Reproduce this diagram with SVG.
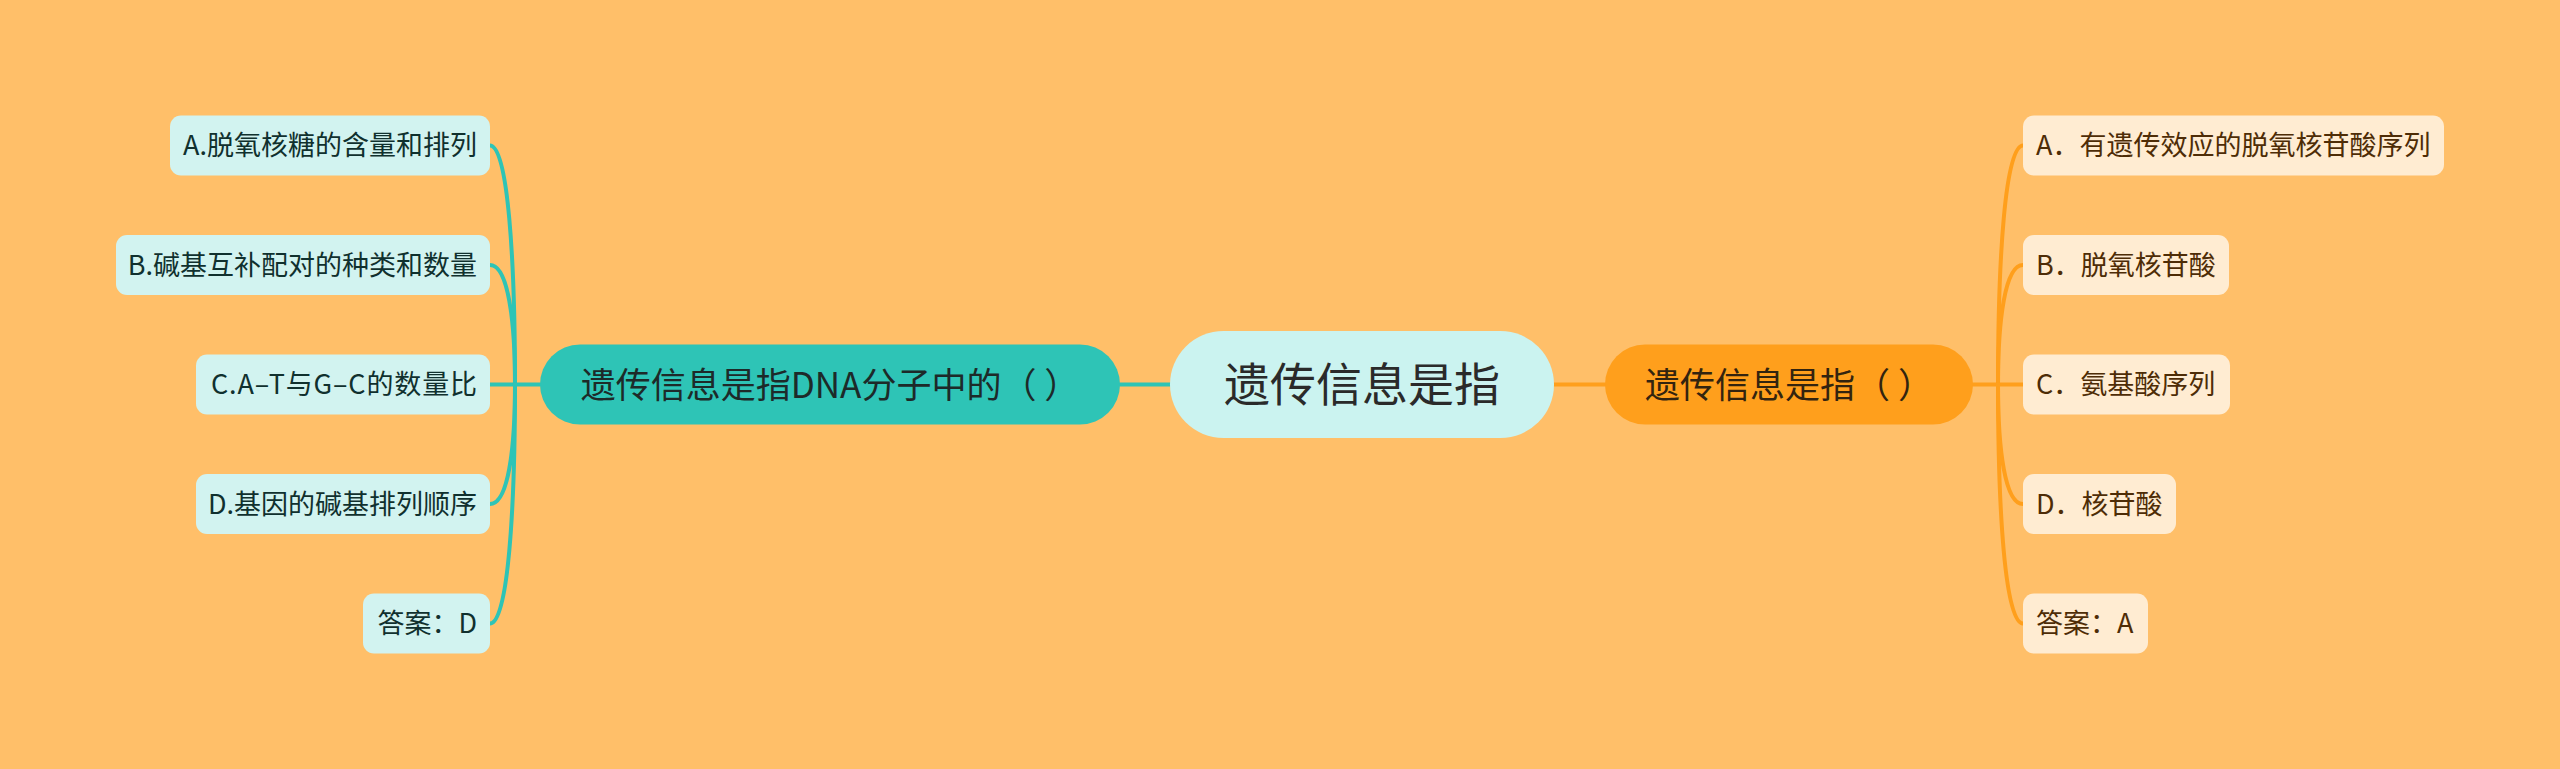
<svg xmlns="http://www.w3.org/2000/svg" width="2560" height="769" viewBox="0 0 2560 769">
<style>
text{font-family:"Noto Sans CJK SC","Noto Sans",sans-serif}
.lk{fill:none;stroke-width:4;stroke-linecap:round}
.tl{stroke:#2ec4b6}
.or{stroke:#ff9f1c}
.leafL rect{fill:#d2f3f0}
.leafL text{fill:#10302e;font-size:27px;text-anchor:end}
.leafR rect{fill:#ffecd2}
.leafR text{fill:#4e2c06;font-size:27px;text-anchor:start}
</style>
<rect x="0" y="0" width="2560" height="769" fill="#ffbf69"/>
<g id="connectors">
<path class="lk tl" d="M1120 384.5 L1170 384.5"/>
<path class="lk or" d="M1553 384.5 L1605 384.5"/>
<path class="lk tl" d="M540 384.5 L490 384.5"/>
<path class="lk tl" d="M490 145.5 C508 145.5 515 260 515 384.5"/>
<path class="lk tl" d="M490 265 C508 265 515 320 515 384.5"/>
<path class="lk tl" d="M490 504 C508 504 515 450 515 384.5"/>
<path class="lk tl" d="M490 623.5 C508 623.5 515 510 515 384.5"/>
<path class="lk or" d="M1973 384.5 L2023 384.5"/>
<path class="lk or" d="M2023 145.5 C2005 145.5 1998 260 1998 384.5"/>
<path class="lk or" d="M2023 265 C2005 265 1998 320 1998 384.5"/>
<path class="lk or" d="M2023 504 C2005 504 1998 450 1998 384.5"/>
<path class="lk or" d="M2023 623.5 C2005 623.5 1998 510 1998 384.5"/>
</g>
<g id="center">
<rect x="1170" y="331" width="384" height="107" rx="53.5" fill="#cbf3f0"/>
<text x="1362" y="401" font-size="46" text-anchor="middle" fill="#2a2a2a">遗传信息是指</text>
</g>
<g id="left-main">
<rect x="540" y="344.5" width="580" height="80" rx="40" fill="#2ec4b6"/>
<text x="830" y="397.5" font-size="35" text-anchor="middle" fill="#1d2a29">遗传信息是指DNA分子中的（ ）</text>
</g>
<g id="right-main">
<rect x="1605" y="344.5" width="368" height="80" rx="40" fill="#ff9f1c"/>
<text x="1789" y="397.5" font-size="35" text-anchor="middle" fill="#33240f">遗传信息是指（ ）</text>
</g>
<g id="left-a" class="leafL">
<rect x="170" y="115.5" width="320" height="60" rx="11"/>
<text x="477" y="155">A.脱氧核糖的含量和排列</text>
</g>
<g id="left-b" class="leafL">
<rect x="116" y="235" width="374" height="60" rx="11"/>
<text x="477" y="274.5">B.碱基互补配对的种类和数量</text>
</g>
<g id="left-c" class="leafL">
<rect x="196" y="354.5" width="294" height="60" rx="11"/>
<text x="477" y="394" textLength="266" lengthAdjust="spacing">C.A–T与G–C的数量比</text>
</g>
<g id="left-d" class="leafL">
<rect x="196" y="474" width="294" height="60" rx="11"/>
<text x="477" y="513.5">D.基因的碱基排列顺序</text>
</g>
<g id="left-ans" class="leafL">
<rect x="363" y="593.5" width="127" height="60" rx="11"/>
<text x="477" y="633">答案：D</text>
</g>
<g id="right-a" class="leafR">
<rect x="2023" y="115.5" width="421" height="60" rx="11"/>
<text x="2036" y="155">A．有遗传效应的脱氧核苷酸序列</text>
</g>
<g id="right-b" class="leafR">
<rect x="2023" y="235" width="206" height="60" rx="11"/>
<text x="2036" y="274.5">B．脱氧核苷酸</text>
</g>
<g id="right-c" class="leafR">
<rect x="2023" y="354.5" width="207" height="60" rx="11"/>
<text x="2036" y="394">C．氨基酸序列</text>
</g>
<g id="right-d" class="leafR">
<rect x="2023" y="474" width="153" height="60" rx="11"/>
<text x="2036" y="513.5">D．核苷酸</text>
</g>
<g id="right-ans" class="leafR">
<rect x="2023" y="593.5" width="125" height="60" rx="11"/>
<text x="2036" y="633">答案：A</text>
</g>
</svg>
